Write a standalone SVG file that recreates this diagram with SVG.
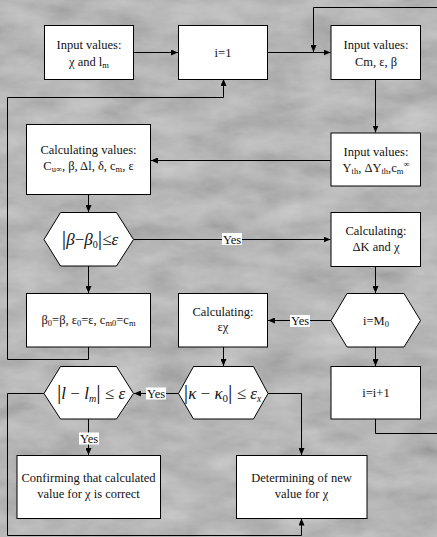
<svg xmlns="http://www.w3.org/2000/svg" width="437" height="537" viewBox="0 0 437 537" font-family="Liberation Serif, Times New Roman, serif">
<defs>
<filter id="tex" x="0" y="0" width="100%" height="100%">
<feTurbulence type="fractalNoise" baseFrequency="0.02 0.045" numOctaves="4" seed="11" result="n"/>
<feColorMatrix in="n" type="matrix" values="0.33 0.33 0.33 0 0  0.33 0.33 0.33 0 0  0.33 0.33 0.33 0 0  0 0 0 0 0.5"/>
</filter>
<marker id="ah" markerWidth="7" markerHeight="6" refX="7" refY="3" orient="auto" markerUnits="userSpaceOnUse">
<path d="M0,0 L7,3 L0,6 z" fill="#000"/>
</marker>
</defs>
<style>
.box{fill:#fff;stroke:#000;stroke-width:1}
text{font-family:'Liberation Serif','Times New Roman',serif}
.t{font-size:12.5px;fill:#111;text-anchor:middle}
.f{font-size:17px;fill:#111;text-anchor:middle}
.i{font-style:italic}
.bar{font-size:22px;font-style:normal}
.c{fill:none;stroke:#000;stroke-width:1}
.a{marker-end:url(#ah)}
.lbl{fill:#fff}
.sub{font-size:8.5px}
</style>
<rect x="0" y="0" width="437" height="537" fill="#b2b2b2"/>
<rect x="0" y="0" width="437" height="537" fill="#fff" filter="url(#tex)"/>

<g id="connectors">
<path class="c a" d="M134,52.5 H178"/>
<path class="c a" d="M268,52.5 H330.5"/>
<path class="c a" d="M437,7.5 H313.5 V52"/>
<path class="c a" d="M375.5,79 V132.5"/>
<path class="c a" d="M330.5,160.5 H151"/>
<path class="c a" d="M88.5,195 V212"/>
<path class="c a" d="M134,239.5 H330.5"/>
<path class="c a" d="M88.5,266 V293"/>
<path class="c a" d="M88.5,347 V359.5 H7.5 V97.5 H223.5 V79"/>
<path class="c a" d="M375.5,267 V293"/>
<path class="c a" d="M331,320.5 H268"/>
<path class="c a" d="M375.5,347 V366"/>
<path class="c" d="M375.5,419 V433.5 H437"/>
<path class="c a" d="M223.5,347 V366"/>
<path class="c a" d="M178.5,393.5 H134"/>
<path class="c a" d="M268,393.5 H301.5 V455"/>
<path class="c a" d="M44,393.5 H7.5 V535.5 H301.5 V518.5"/>
<path class="c a" d="M88.5,419 V455"/>
<rect class="lbl" x="222" y="233" width="20" height="12"/>
<text class="t" x="232" y="243.5">Yes</text>
<rect class="lbl" x="290" y="315" width="20" height="12"/>
<text class="t" x="300" y="325">Yes</text>
<rect class="lbl" x="146" y="387.5" width="20" height="12"/>
<text class="t" x="156" y="397.5">Yes</text>
<rect class="lbl" x="79" y="432.5" width="20" height="12"/>
<text class="t" x="89" y="442.5">Yes</text>
</g>

<g id="n_input_chi">
<rect class="box" x="44.5" y="25.5" width="89" height="54"/>
<text class="t" x="89" y="49">Input values:</text>
<text class="t" x="89" y="65.5">χ and l<tspan class="sub" dy="2">m</tspan></text>
</g>

<g id="n_i1">
<rect class="box" x="178.5" y="25.5" width="89" height="54"/>
<text class="t" x="223" y="56.5">i=1</text>
</g>

<g id="n_input_cm">
<rect class="box" x="331" y="25.5" width="89.5" height="54"/>
<text class="t" x="376" y="49">Input values:</text>
<text class="t" x="376" y="65.5">Cm, ε, β</text>
</g>

<g id="n_input_y">
<rect class="box" x="331" y="133" width="89.5" height="53"/>
<text class="t" x="376" y="155.5">Input values:</text>
<text class="t" x="376" y="171.5">Y<tspan class="sub" dy="2">th</tspan><tspan dy="-2">, ΔY</tspan><tspan class="sub" dy="2">th</tspan><tspan dy="-2">,c</tspan><tspan class="sub" dy="2">m</tspan><tspan class="sub" dy="-7">∞</tspan></text>
</g>

<g id="n_calc_values">
<rect class="box" x="26.5" y="124.5" width="124" height="70"/>
<text class="t" x="88.5" y="153.5">Calculating values:</text>
<text class="t" x="88.5" y="169.5">C<tspan class="sub" dy="2">u∞</tspan><tspan dy="-2">, β, Δl, δ, c</tspan><tspan class="sub" dy="2">m</tspan><tspan dy="-2">, ε</tspan></text>
</g>

<g id="n_hex_beta">
<polygon class="box" points="44,239.5 60.5,212.5 116.5,212.5 133.5,239.5 116.5,266 60.5,266"/>
<text class="f" x="90" y="244.5" font-size="16px"><tspan class="bar">|</tspan><tspan class="i">β</tspan>−<tspan class="i">β</tspan><tspan font-size="10" dy="3">0</tspan><tspan class="bar" dy="-3">|</tspan>≤<tspan class="i">ε</tspan></text>
</g>

<g id="n_calc_dk">
<rect class="box" x="331" y="212.5" width="89.5" height="54"/>
<text class="t" x="376" y="234.5">Calculating:</text>
<text class="t" x="376" y="250.5">ΔK and χ</text>
</g>

<g id="n_beta0">
<rect class="box" x="26.5" y="293.5" width="124" height="53.5"/>
<text class="t" x="88.5" y="324" font-size="11.5px">β<tspan class="sub" dy="2">0</tspan><tspan dy="-2">=β, ε</tspan><tspan class="sub" dy="2">0</tspan><tspan dy="-2">=ε, c</tspan><tspan class="sub" dy="2">m0</tspan><tspan dy="-2">=c</tspan><tspan class="sub" dy="2">m</tspan></text>
</g>

<g id="n_calc_ex">
<rect class="box" x="178.5" y="293.5" width="89" height="53.5"/>
<text class="t" x="223" y="315.5">Calculating:</text>
<text class="t" x="223" y="331">εχ</text>
</g>

<g id="n_hex_m0">
<polygon class="box" points="331,320.5 347,293.5 404,293.5 420.5,320.5 404,347 347,347"/>
<text class="t" x="376" y="324.5">i=M<tspan class="sub" dy="2">0</tspan></text>
</g>

<g id="n_inc">
<rect class="box" x="331" y="366.5" width="89.5" height="52.5"/>
<text class="t" x="376" y="397">i=i+1</text>
</g>

<g id="n_hex_kappa">
<polygon class="box" points="178.5,393.5 193.5,366.5 253.5,366.5 268,393.5 253.5,419 193.5,419"/>
<text class="f" x="222.5" y="398.5" font-size="15.5px"><tspan class="bar">|</tspan><tspan class="i">κ</tspan> − <tspan class="i">κ</tspan><tspan font-size="11" dy="3">0</tspan><tspan class="bar" dy="-3">|</tspan> ≤ <tspan class="i">ε</tspan><tspan class="i" font-size="9.5" dy="3">x</tspan></text>
</g>

<g id="n_hex_l">
<polygon class="box" points="44,393.5 60.5,366.5 116.5,366.5 133.5,393.5 116.5,419 60.5,419"/>
<text class="f" x="91" y="399"><tspan class="bar">|</tspan><tspan class="i">l</tspan> − <tspan class="i">l</tspan><tspan class="i" font-size="10" dy="3">m</tspan><tspan class="bar" dy="-3">|</tspan> ≤ <tspan class="i">ε</tspan></text>
</g>

<g id="n_confirm">
<rect class="box" x="17" y="455.5" width="143.5" height="63"/>
<text class="t" x="88.5" y="482">Confirming that calculated</text>
<text class="t" x="88.5" y="497.5">value for χ is correct</text>
</g>

<g id="n_determine">
<rect class="box" x="236.5" y="455.5" width="130.5" height="63"/>
<text class="t" x="301.5" y="482">Determining of new</text>
<text class="t" x="301.5" y="497.5">value for χ</text>
</g>
</svg>
